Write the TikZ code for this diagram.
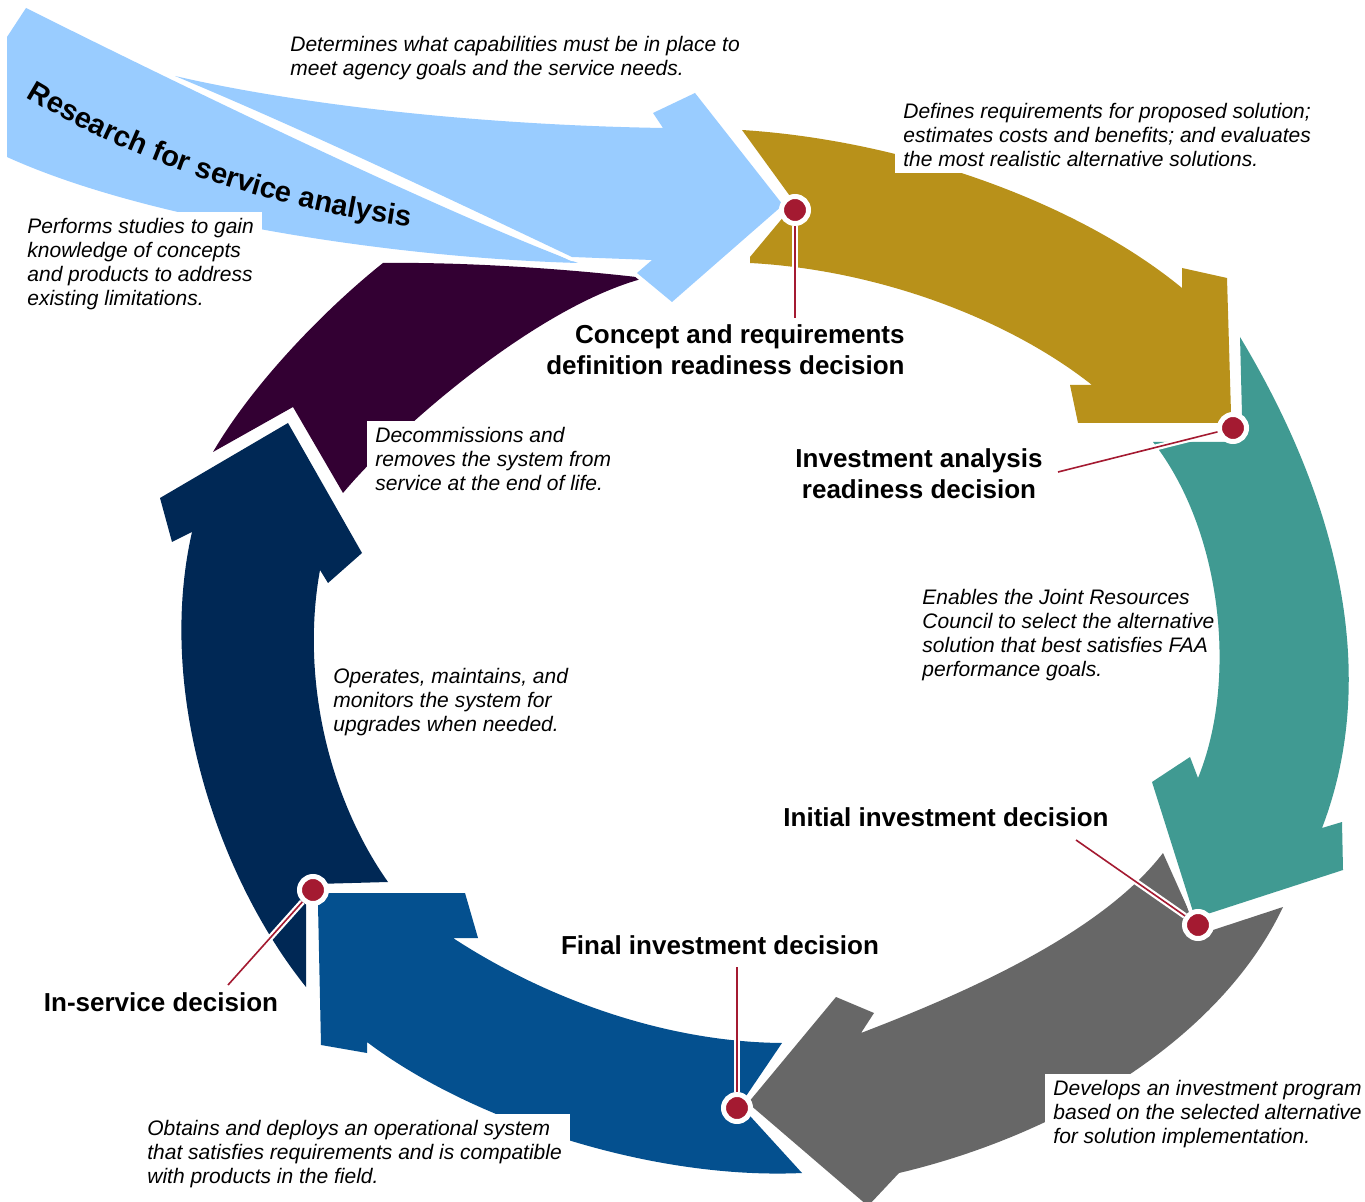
\documentclass[tikz,border=0pt]{standalone}
\usepackage{fontspec}
\setmainfont{Liberation Sans}
\usepackage{tikz}
\usetikzlibrary{positioning, decorations.text}

\definecolor{rsablue}{HTML}{99CCFF}
\definecolor{crdgold}{HTML}{B8911A}
\definecolor{iateal}{HTML}{409A92}
\definecolor{iidgrey}{HTML}{676767}
\definecolor{fidblue}{HTML}{04508F}
\definecolor{isdnavy}{HTML}{002855}
\definecolor{decplum}{HTML}{330033}
\definecolor{gatered}{HTML}{A41A31}

\newcommand\notefont{\fontsize{10.5}{12}\selectfont\itshape}
\newcommand\decfont{\fontsize{13}{15.5}\selectfont\bfseries}
\newcommand\rsafont{\fontsize{14.5}{16}\selectfont\bfseries}

\tikzset{
    stage/.style={
        fill=#1,
        preaction={draw=white, line width=4pt, line join=round}
    },
    dot/.style={
        circle,
        fill=gatered,
        draw=white,
        line width=2.5pt,
        minimum size=13.5pt,
        inner sep=0pt
    },
    leader/.style={
        draw=gatered,
        line width=0.8pt,
        preaction={draw=white, line width=3pt}
    },
    note/.style={
        font=\notefont,
        align=left,
        inner sep=0pt
    },
    notebox/.style={
        note,
        fill=white,
        inner xsep=4pt,
        inner ysep=3pt
    },
    decision/.style={
        font=\decfont,
        inner sep=0pt
    }
}

\begin{document}
\begin{tikzpicture}[x=0.5pt, y=-0.5pt]
\useasboundingbox (0,0) rectangle (1365,1202);

% Disposal
\path[stage=decplum] (213,452) -- (293,407) -- (343,493)
    .. controls (400,425) and (540,305) .. (645,278)
    .. controls (560,268) and (460,262) .. (383,263)
    .. controls (330,305) and (255,380) .. (213,452) -- cycle;

% In-service management
\path[stage=isdnavy] (388,882) -- (316,884) -- (306,900) -- (306,987)
    .. controls (220,880) and (155,695) .. (192,532)
    -- (172,542) -- (160,498) -- (288,423) -- (362,553) -- (328,583) -- (320,570)
    .. controls (300,680) and (330,800) .. (388,882) -- cycle;

% Solution implementation
\path[stage=fidblue] (782,1043) -- (740,1105) -- (802,1173)
    .. controls (650,1180) and (470,1120) .. (367,1042)
    -- (367,1053) -- (321,1045) -- (318,905) -- (324,893) -- (465,893) -- (478,938) -- (453,938)
    .. controls (540,995) and (660,1042) .. (782,1043) -- cycle;

% Final investment analysis
\path[stage=iidgrey] (1163,853) -- (1192,918) -- (1213,930) -- (1283,907)
    .. controls (1220,1040) and (1060,1135) .. (899,1173)
    -- (868,1206) -- (748,1103) -- (836,997) -- (874,1013) -- (861,1033)
    .. controls (960,995) and (1100,935) .. (1163,853) -- cycle;

% Initial investment analysis
\path[stage=iateal] (1240,337) -- (1242,415) -- (1233,442) -- (1153,442)
    .. controls (1222,530) and (1238,680) .. (1198,778)
    -- (1190,757) -- (1152,782) -- (1195,918) -- (1343,870) -- (1342,822) -- (1322,828)
    .. controls (1375,690) and (1350,520) .. (1240,337) -- cycle;

% Concept and requirements definition
\path[stage=crdgold] (742,130) -- (795,203) -- (750,257) -- (750,263)
    .. controls (880,270) and (1010,320) .. (1092,385)
    -- (1070,385) -- (1078,423) -- (1220,423) -- (1231,413) -- (1227,278) -- (1182,268) -- (1182,288)
    .. controls (1075,200) and (900,140) .. (742,130) -- cycle;

% Research band and service analysis arrow
\path[stage=rsablue] (26,8) -- (7,37) -- (7,157)
    .. controls (150,222) and (400,258) .. (578,263)
    .. controls (450,215) and (200,95) .. (26,8) -- cycle;
\path[stage=rsablue] (175,76)
    .. controls (300,105) and (480,125) .. (663,128)
    -- (653,113) -- (695,93) -- (783,205) -- (672,302) -- (637,273) -- (652,260) -- (572,257)
    .. controls (450,199) and (300,128) .. (175,76) -- cycle;

\path[decorate, decoration={text along path, text align=left,
    text={|\rsafont|Research for service analysis}}]
    (26,97) .. controls (130,160) and (265,208) .. (418,228);

% Phase notes
\node[note, anchor=north west] (svctxt) at (290,36) {Determines what capabilities must be in place to\\meet agency goals and the service needs.};
\node[notebox, anchor=north west] (crdtxt) at (895,97) {Defines requirements for proposed solution;\\estimates costs and benefits; and evaluates\\the most realistic alternative solutions.};
\node[notebox, anchor=north west] (rsatxt) at (19,212) {Performs studies to gain\\knowledge of concepts\\and products to address\\existing limitations.};
\node[notebox, anchor=north west] (dectxt) at (367,421) {Decommissions and\\removes the system from\\service at the end of life.};
\node[note, anchor=north west] (iatxt) at (922,589) {Enables the Joint Resources\\Council to select the alternative\\solution that best satisfies FAA\\performance goals.};
\node[note, anchor=north west] (optxt) at (333,668) {Operates, maintains, and\\monitors the system for\\upgrades when needed.};
\node[notebox, anchor=north west] (invtxt) at (1045,1074) {Develops an investment program\\based on the selected alternative\\for solution implementation.};
\node[notebox, anchor=north west] (imptxt) at (139,1114) {Obtains and deploys an operational system\\that satisfies requirements and is compatible\\with products in the field.};

% Decision labels
\node[decision, anchor=north east, align=right] (crdlbl) at (905,324) {Concept and requirements\\definition readiness decision};
\node[decision, align=center] (iardlbl) at (919,474) {Investment analysis\\readiness decision};
\node[decision] (iidlbl) at (946,817) {Initial investment decision};
\node[decision] (fidlbl) at (720,945) {Final investment decision};
\node[decision] (isdlbl) at (161,1002) {In-service decision};

% Decision points
\node[dot] (crd) at (795,210) {};
\node[dot] (iard) at (1233,428) {};
\node[dot] (iid) at (1198,925) {};
\node[dot] (fid) at (737,1108) {};
\node[dot] (isd) at (313,890) {};

\coordinate (crdend) at (795,318);
\coordinate (iardend) at (1058,472);
\coordinate (iidend) at (1076,840);
\coordinate (fidend) at (737,967);
\coordinate (isdend) at (228,985);

\draw[leader] (crd) -- (crdend);
\draw[leader] (iard) -- (iardend);
\draw[leader] (iid) -- (iidend);
\draw[leader] (fid) -- (fidend);
\draw[leader] (isd) -- (isdend);

\end{tikzpicture}
\end{document}
